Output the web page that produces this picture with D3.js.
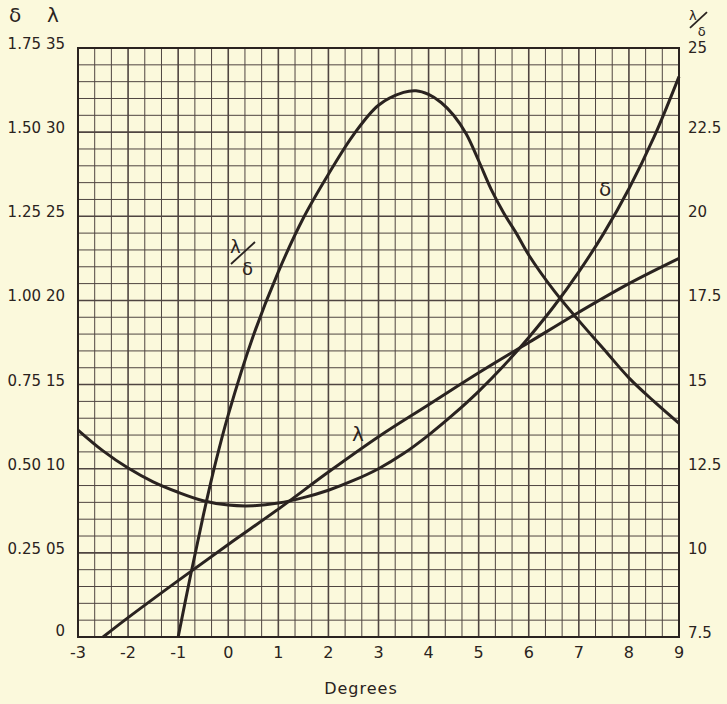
<!DOCTYPE html>
<html>
<head>
<meta charset="utf-8">
<script src="https://cdn.jsdelivr.net/npm/d3@7"></script>
<style>
  body { margin: 0; background: #fbf9dc; }
  text { font-family: "DejaVu Sans", sans-serif; fill: #2a2320; }
</style>
</head>
<body>
<div id="container"></div>
<script>
let w = 727;
let h = 704;

// degrees on the x axis
let xTicks = [-3, -2, -1, 0, 1, 2, 3, 4, 5, 6, 7, 8, 9];
// left axis, delta and lambda labels
let deltaTicks = [0, 0.25, 0.5, 0.75, 1.0, 1.25, 1.5, 1.75];
let deltaTickText = ['', '0.25', '0.50', '0.75', '1.00', '1.25', '1.50', '1.75'];
let lambdaTickText = ['0', '05', '10', '15', '20', '25', '30', '35'];
// right axis, lambda / delta
let ratioTicks = [7.5, 10, 12.5, 15, 17.5, 20, 22.5, 25];

// delta curve
let deltaX = [-3, -2.5, -2, -1.5, -1, -0.5, 0, 0.5, 1, 1.5, 2, 2.5, 3, 3.5, 4, 4.5, 5, 5.5, 6, 6.5, 7, 7.5, 8, 8.5, 9];
let deltaY = [0.615, 0.553, 0.502, 0.461, 0.43, 0.405, 0.392, 0.39, 0.398, 0.414, 0.436, 0.465, 0.50, 0.545, 0.60, 0.662, 0.73, 0.806, 0.89, 0.982, 1.085, 1.20, 1.332, 1.485, 1.665];

// lambda curve
let lambdaX = [-2.5, -2, -1, 0, 1, 2, 3, 4, 5, 6, 7, 8, 9];
let lambdaY = [0, 1.15, 3.35, 5.5, 7.6, 9.8, 11.9, 13.8, 15.7, 17.5, 19.3, 21.0, 22.5];

// lambda / delta curve
let ratioX = [-1, -0.75, -0.5, -0.25, 0, 0.5, 1, 1.5, 2, 2.5, 3, 3.5, 3.75, 4, 4.25, 4.5, 4.75, 5, 5.25, 5.5, 5.75, 6, 6.5, 7, 7.5, 8, 8.5, 9];
let ratioY = [7.5, 9.35, 11.1, 12.7, 14.1, 16.45, 18.35, 19.95, 21.25, 22.42, 23.3, 23.68, 23.73, 23.62, 23.38, 23.0, 22.45, 21.65, 20.8, 20.1, 19.5, 18.85, 17.8, 16.9, 16.05, 15.2, 14.5, 13.85];

let viz = d3.select('#container').append('svg')
    .attr('width', w)
    .attr('height', h)
;

let x = d3.scaleLinear().domain([-3, 9]).range([78, 679]);
let yDelta = d3.scaleLinear().domain([0, 1.75]).range([637, 48]);
let yLambda = d3.scaleLinear().domain([0, 35]).range([637, 48]);
let yRatio = d3.scaleLinear().domain([7.5, 25]).range([637, 48]);

let ink = '#2a2320';
let gridInk = '#4f4541';

// grid: 3 cells per degree, 1 cell per lambda unit
let grid = viz.append('g');
d3.range(0, 37).forEach(i => {
    let v = -3 + i / 3;
    grid.append('line')
        .attr('x1', x(v)).attr('x2', x(v))
        .attr('y1', yLambda(0)).attr('y2', yLambda(35))
        .attr('stroke', gridInk)
        .attr('stroke-width', i % 3 == 0 ? 1.6 : 1);
});
d3.range(0, 36).forEach(v => {
    grid.append('line')
        .attr('x1', x(-3)).attr('x2', x(9))
        .attr('y1', yLambda(v)).attr('y2', yLambda(v))
        .attr('stroke', gridInk)
        .attr('stroke-width', v % 5 == 0 ? 1.6 : 1);
});
grid.append('rect')
    .attr('x', x(-3)).attr('y', yLambda(35))
    .attr('width', x(9) - x(-3)).attr('height', yLambda(0) - yLambda(35))
    .attr('fill', 'none')
    .attr('stroke', ink)
    .attr('stroke-width', 2);

// curves
let line = (xs, ys, sy) => d3.line()
    .x((d, i) => x(xs[i]))
    .y((d, i) => sy(ys[i]))
    .curve(d3.curveCatmullRom.alpha(0.5))(xs);

viz.append('path').attr('d', line(deltaX, deltaY, yDelta))
    .attr('fill', 'none').attr('stroke', ink).attr('stroke-width', 3);
viz.append('path').attr('d', line(lambdaX, lambdaY, yLambda))
    .attr('fill', 'none').attr('stroke', ink).attr('stroke-width', 3);
viz.append('path').attr('d', line(ratioX, ratioY, yRatio))
    .attr('fill', 'none').attr('stroke', ink).attr('stroke-width', 3);

// x tick labels
viz.selectAll('.xt').data(xTicks).enter().append('text')
    .attr('x', d => x(d))
    .attr('y', 658)
    .attr('text-anchor', 'middle')
    .attr('font-size', '16px')
    .text(d => d < 0 ? '-' + Math.abs(d) : d);

viz.append('text')
    .text('Degrees')
    .attr('x', 361)
    .attr('y', 694)
    .attr('text-anchor', 'middle')
    .attr('font-size', '16px')
    .attr('letter-spacing', '1px');

// left tick labels
viz.selectAll('.dt').data(deltaTicks).enter().append('text')
    .attr('x', 41)
    .attr('y', d => yDelta(d) + 1)
    .attr('text-anchor', 'end')
    .attr('font-size', '15px')
    .text((d, i) => deltaTickText[i]);
viz.selectAll('.lt').data(deltaTicks).enter().append('text')
    .attr('x', 65)
    .attr('y', d => yDelta(d) + (d == 0 ? -1 : 1))
    .attr('text-anchor', 'end')
    .attr('font-size', '15px')
    .text((d, i) => lambdaTickText[i]);

// right tick labels
viz.selectAll('.rt').data(ratioTicks).enter().append('text')
    .attr('x', 688)
    .attr('y', d => yRatio(d) + (d == 25 ? 5 : 1))
    .attr('font-size', '15px')
    .text(d => d);

// axis headers
viz.append('text').text('δ').attr('x', 9).attr('y', 22).attr('font-size', '20px');
viz.append('text').text('λ').attr('x', 47).attr('y', 22).attr('font-size', '20px');

// stacked lambda/delta marks
let fraction = (cx, cy, s) => {
    viz.append('text').text('λ').attr('x', cx).attr('y', cy)
        .attr('font-size', (18 * s) + 'px');
    viz.append('line')
        .attr('x1', cx + 1).attr('y1', cy + 11 * s)
        .attr('x2', cx + 25 * s).attr('y2', cy - 11 * s)
        .attr('stroke', ink).attr('stroke-width', 1.8);
    viz.append('text').text('δ').attr('x', cx + 12 * s).attr('y', cy + 22 * s)
        .attr('font-size', (18 * s) + 'px');
};
fraction(689, 20, 0.72);
fraction(230, 253, 1);

// curve names
viz.append('text').text('δ').attr('x', 599).attr('y', 196).attr('font-size', '20px');
viz.append('text').text('λ').attr('x', 352).attr('y', 441).attr('font-size', '20px');
</script>
</body>
</html>
